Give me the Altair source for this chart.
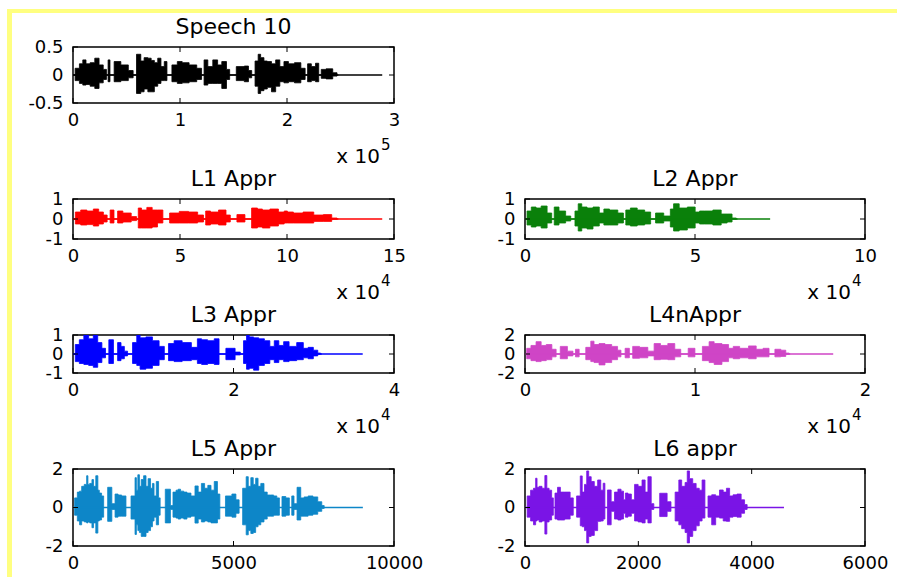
import altair as alt
import pandas as pd

FONT = "DejaVu Sans"

TITLES = ["Speech 10", "L1 Appr", "L2 Appr", "L3 Appr", "L4nAppr", "L5 Appr", "L6 appr"]
COLORS = ["#000000", "#FF0000", "#0A800A", "#0000FF", "#CF45C6", "#0D86C8", "#7A14E6"]
LENGTHS = [289000, 144500, 72100, 36100, 18130, 9030, 4570]
X_MAX = [300000, 150000, 100000, 40000, 20000, 10000, 6000]
X_TICKS = [[0, 100000, 200000, 300000], [0, 50000, 100000, 150000], [0, 50000, 100000],
           [0, 20000, 40000], [0, 10000, 20000], [0, 5000, 10000], [0, 2000, 4000, 6000]]
X_DIV = [100000, 10000, 10000, 10000, 10000, 1, 1]
EXPONENT = ["5", "4", "4", "4", "4", None, None]
Y_LIM = [0.5, 1, 1, 1, 2, 2, 2]
Y_TICKS = [[-0.5, 0, 0.5], [-1, 0, 1], [-1, 0, 1], [-1, 0, 1], [-2, 0, 2], [-2, 0, 2], [-2, 0, 2]]

# envelope readings: (sample, upper, lower)
SPEECH_ENV = [
    (0, 0, 0), (4000, 0.12, -0.10), (8000, 0.20, -0.15), (10300, 0.27, -0.18), (14000, 0.20, -0.17),
    (18000, 0.22, -0.20), (22700, 0.30, -0.24), (26000, 0.18, -0.14), (30500, 0.10, -0.08), (32000, 0, 0),
    (33600, 0.27, -0.12), (35500, 0, 0), (41400, 0.24, -0.12), (48000, 0.18, -0.10), (55400, 0.08, -0.05),
    (57000, 0, 0), (61700, 0.37, -0.33), (65000, 0.25, -0.30), (67900, 0.31, -0.25), (72000, 0.30, -0.30),
    (74100, 0.26, -0.30), (78000, 0.22, -0.20), (80400, 0.30, -0.15), (84000, 0.15, -0.10), (86600, 0.24, -0.10),
    (89000, 0, 0), (95900, 0.18, -0.12), (99100, 0.24, -0.15), (105000, 0.22, -0.14), (112000, 0.18, -0.12),
    (119300, 0.12, -0.08), (121000, 0, 0), (124000, 0.27, -0.18), (128000, 0.15, -0.15), (133300, 0.27, -0.15),
    (137000, 0.18, -0.15), (141100, 0.24, -0.24), (145800, 0.10, -0.08), (147000, 0, 0), (158200, 0.15, -0.10),
    (162000, 0.16, -0.12), (166000, 0.08, -0.05), (168000, 0, 0), (172300, 0.25, -0.20), (173800, 0.37, -0.33),
    (176900, 0.31, -0.28), (180000, 0.25, -0.25), (183200, 0.24, -0.22), (187800, 0.20, -0.30), (191000, 0.27, -0.20),
    (195600, 0.15, -0.12), (198700, 0.24, -0.14), (204000, 0.20, -0.12), (210000, 0.22, -0.14), (215900, 0.12, -0.08),
    (218000, 0, 0), (220500, 0.20, -0.12), (225000, 0.15, -0.10), (228300, 0.21, -0.12), (231000, 0, 0),
    (233000, 0.10, -0.06), (240000, 0.11, -0.07), (245500, 0.04, -0.02), (248000, 0, 0),
]
L1_ENV = [
    (0, 0, 0), (2200, 0.35, -0.25), (5000, 0.45, -0.30), (8000, 0.40, -0.28), (11000, 0.50, -0.35),
    (13000, 0.35, -0.25), (15400, 0.20, -0.15), (16500, 0, 0), (18200, 0.45, -0.20), (20100, 0, 0),
    (21600, 0.40, -0.20), (25000, 0.30, -0.15), (29400, 0.12, -0.08), (30000, 0, 0), (31000, 0.55, -0.45),
    (33000, 0.45, -0.45), (36000, 0.58, -0.45), (38000, 0.45, -0.40), (41000, 0.45, -0.20), (43000, 0, 0),
    (47300, 0.30, -0.20), (52000, 0.38, -0.20), (56000, 0.35, -0.20), (60500, 0.20, -0.15), (61500, 0, 0),
    (62500, 0.40, -0.30), (66000, 0.35, -0.25), (70000, 0.45, -0.30), (73000, 0.20, -0.15), (74000, 0, 0),
    (79200, 0.22, -0.15), (81500, 0, 0), (85400, 0.55, -0.45), (87000, 0.50, -0.40), (90000, 0.45, -0.45),
    (94000, 0.50, -0.35), (98000, 0.35, -0.25), (99400, 0.40, -0.20), (101000, 0.35, -0.20), (105000, 0.30, -0.20),
    (110000, 0.35, -0.20), (115000, 0.20, -0.12), (119000, 0.22, -0.12), (122800, 0.05, -0.02), (124000, 0, 0),
]
L2_ENV = [
    (0, 0, 0), (1200, 0.40, -0.30), (2500, 0.60, -0.40), (4000, 0.55, -0.35), (5500, 0.65, -0.45),
    (7500, 0.30, -0.20), (8200, 0, 0), (9000, 0.60, -0.30), (11000, 0.40, -0.20), (12900, 0.15, -0.10),
    (14000, 0, 0), (15400, 0.40, -0.35), (15900, 0.76, -0.60), (17500, 0.60, -0.45), (19000, 0.55, -0.50),
    (21000, 0.60, -0.35), (22700, 0.30, -0.20), (23700, 0.50, -0.30), (26000, 0.45, -0.30), (28600, 0.30, -0.20),
    (29300, 0, 0), (30000, 0.45, -0.30), (32000, 0.55, -0.35), (34000, 0.45, -0.30), (36400, 0.35, -0.25),
    (37500, 0, 0), (39300, 0.30, -0.20), (42300, 0.15, -0.10), (43200, 0.50, -0.40), (44200, 0.76, -0.60),
    (46500, 0.55, -0.55), (49000, 0.60, -0.45), (51100, 0.35, -0.20), (51600, 0.40, -0.25), (54000, 0.40, -0.25),
    (56500, 0.45, -0.30), (58900, 0.25, -0.20), (60000, 0.25, -0.15), (61800, 0.05, -0.02), (62500, 0, 0),
]
L3_ENV = [
    (0, 0, 0), (580, 0.50, -0.40), (1000, 0.75, -0.50), (1700, 1.05, -0.55), (2200, 0.80, -0.60),
    (2860, 1.00, -0.70), (3300, 0.60, -0.45), (3900, 0.30, -0.20), (4200, 0, 0), (4730, 0.75, -0.50),
    (5350, 0, 0), (5770, 0.60, -0.35), (6200, 0.40, -0.25), (6600, 0.15, -0.10), (7000, 0, 0),
    (7840, 0.60, -0.50), (8050, 1.00, -0.60), (8670, 0.85, -0.80), (9500, 0.90, -0.75), (10300, 0.70, -0.60),
    (11160, 0.40, -0.30), (11600, 0, 0), (12200, 0.55, -0.35), (13000, 0.70, -0.40), (14200, 0.60, -0.35),
    (15300, 0.35, -0.30), (15700, 0.80, -0.50), (16350, 0.75, -0.55), (17200, 0.70, -0.50), (18000, 0.80, -0.55),
    (18400, 0, 0), (19700, 0.30, -0.30), (20700, 0.10, -0.05), (21000, 0, 0), (21500, 0.70, -0.50),
    (21750, 1.05, -0.80), (22200, 0.90, -0.75), (22800, 0.85, -0.85), (23500, 0.80, -0.60), (24200, 0.70, -0.50),
    (24860, 0.40, -0.30), (25300, 0.70, -0.45), (26000, 0.45, -0.30), (26500, 0.65, -0.40), (27350, 0.40, -0.35),
    (28400, 0.60, -0.30), (29000, 0.30, -0.20), (29600, 0.35, -0.25), (30300, 0.20, -0.10), (30700, 0.05, -0.02),
    (31000, 0, 0),
]
L4_ENV = [
    (0, 0, 0), (200, 0.60, -0.50), (500, 0.90, -0.70), (800, 1.30, -0.80), (1100, 0.90, -0.70),
    (1400, 1.00, -0.60), (1760, 0.50, -0.30), (1900, 0, 0), (2250, 0.80, -0.50), (2740, 0.30, -0.20),
    (2900, 0, 0), (3040, 0.50, -0.30), (3330, 0, 0), (3820, 0.70, -0.60), (3920, 1.35, -0.80),
    (4200, 1.00, -0.90), (4510, 1.10, -1.15), (4900, 1.00, -0.90), (5300, 0.80, -0.60), (5590, 0.40, -0.30),
    (5700, 0, 0), (6080, 0.60, -0.40), (6200, 0, 0), (6470, 0.80, -0.45), (7000, 0.70, -0.40),
    (7450, 0.30, -0.20), (7740, 1.10, -0.60), (8200, 0.90, -0.55), (8600, 1.10, -0.60), (9020, 0.50, -0.30),
    (9300, 0, 0), (9900, 0.60, -0.30), (10090, 0, 0), (10780, 0.80, -0.70), (10880, 1.30, -0.90),
    (11370, 1.10, -1.10), (11800, 1.00, -0.80), (12150, 0.60, -0.40), (12350, 0.80, -0.50), (12900, 0.60, -0.40),
    (13400, 0.85, -0.50), (13800, 0.50, -0.30), (14210, 0.60, -0.30), (14500, 0, 0), (14900, 0.50, -0.30),
    (15200, 0.40, -0.25), (15480, 0.10, -0.05), (15600, 0, 0),
]
L5_ENV = [
    (0, 0, 0), (100, 0.50, -0.40), (170, 0.80, -0.70), (240, 0.85, -0.90), (300, 1.10, -0.70),
    (400, 1.20, -0.75), (450, 1.65, -0.80), (480, 1.20, -0.75), (560, 1.25, -0.80), (620, 1.45, -1.05),
    (660, 1.10, -0.80), (760, 1.65, -1.33), (790, 0.90, -0.70), (850, 0.75, -0.65), (930, 0.60, -0.50),
    (980, 0, 0), (1180, 1.05, -0.72), (1240, 0.20, -0.10), (1380, 0.70, -0.50), (1430, 0.65, -0.45),
    (1600, 0.60, -0.45), (1700, 0, 0), (1915, 0.60, -0.60), (1950, 1.55, -1.40), (2000, 0.90, -0.90),
    (2040, 1.70, -1.20), (2100, 1.10, -1.30), (2150, 1.45, -1.50), (2250, 1.65, -1.50), (2300, 1.10, -1.30),
    (2380, 1.50, -1.20), (2450, 1.00, -1.00), (2500, 1.25, -0.70), (2550, 0.60, -0.50), (2640, 1.35, -0.90),
    (2690, 0.50, -0.40), (2740, 0, 0), (3010, 0.95, -0.80), (3060, 0.10, -0.10), (3170, 0.80, -0.50),
    (3250, 0.90, -0.55), (3300, 0.95, -0.60), (3400, 0.85, -0.55), (3500, 0.80, -0.60), (3600, 0.75, -0.50),
    (3750, 0.60, -0.45), (3850, 1.12, -0.81), (3950, 0.80, -0.60), (4050, 1.25, -0.75), (4150, 1.00, -0.70),
    (4250, 1.15, -0.75), (4350, 0.90, -0.80), (4450, 1.35, -0.80), (4550, 0.70, -0.60), (4600, 0, 0),
    (4900, 0.60, -0.45), (5000, 0.70, -0.50), (5150, 0.40, -0.30), (5200, 0, 0), (5370, 1.00, -0.90),
    (5420, 1.60, -1.42), (5500, 1.10, -1.20), (5580, 1.55, -1.35), (5650, 1.20, -1.30), (5730, 1.52, -1.00),
    (5800, 1.10, -0.90), (5900, 1.25, -0.75), (6000, 0.80, -0.60), (6100, 0.65, -0.45), (6200, 0.65, -0.45),
    (6300, 0.60, -0.40), (6400, 0.50, -0.40), (6460, 0, 0), (6560, 0.57, -0.45), (6700, 0.50, -0.40),
    (6780, 0, 0), (6850, 0.60, -0.40), (6920, 0.20, -0.10), (7040, 1.05, -0.65), (7150, 0.50, -0.45),
    (7250, 0.55, -0.45), (7400, 0.60, -0.40), (7550, 0.55, -0.35), (7700, 0.30, -0.20), (7800, 0.10, -0.05),
    (7850, 0, 0),
]
L6_ENV = [
    (0, 0, 0), (77, 0.60, -0.50), (120, 0.90, -0.70), (180, 1.00, -0.90), (195, 1.52, -0.70),
    (230, 1.05, -0.65), (270, 1.10, -0.75), (330, 1.00, -0.70), (371, 1.66, -1.38), (400, 1.00, -0.75),
    (450, 0.90, -0.65), (490, 0.50, -0.40), (510, 0, 0), (548, 0.75, -0.60), (600, 1.05, -0.65),
    (650, 0.80, -0.65), (750, 0.80, -0.60), (843, 0.50, -0.40), (860, 0, 0), (961, 0.60, -0.50),
    (990, 1.64, -0.95), (1030, 0.80, -1.00), (1070, 1.20, -1.20), (1108, 1.90, -1.84), (1140, 1.60, -1.50),
    (1196, 1.35, -1.45), (1250, 1.10, -1.20), (1314, 1.43, -0.72), (1360, 0.90, -0.70), (1400, 1.26, -0.60),
    (1420, 0, 0), (1491, 0.91, -0.90), (1550, 0.30, -0.20), (1609, 0.80, -0.60), (1670, 0.95, -0.65),
    (1720, 0.85, -0.60), (1756, 0.40, -0.30), (1786, 0.75, -0.50), (1850, 0.70, -0.45), (1904, 0.40, -0.30),
    (1963, 1.20, -0.70), (2030, 1.10, -0.75), (2100, 1.43, -0.80), (2140, 0.80, -0.60), (2198, 1.60, -0.80),
    (2257, 0.20, -0.10), (2290, 0, 0), (2464, 0.74, -0.47), (2552, 0.30, -0.20), (2600, 0, 0),
    (2699, 0.80, -0.70), (2730, 1.43, -0.90), (2800, 1.10, -1.10), (2850, 1.30, -1.30), (2876, 1.90, -1.84),
    (2930, 1.50, -1.50), (2990, 1.25, -1.20), (3050, 1.00, -0.95), (3100, 0.90, -0.70), (3150, 1.43, -0.55),
    (3200, 0, 0), (3259, 0.60, -0.50), (3330, 0.66, -0.90), (3400, 0.60, -0.50), (3465, 0.91, -0.55),
    (3530, 0.80, -0.70), (3580, 1.00, -0.72), (3642, 0.60, -0.50), (3701, 0.66, -0.47), (3780, 0.70, -0.50),
    (3849, 0.40, -0.30), (3900, 0.15, -0.10), (3940, 0, 0),
]
ENVS = [SPEECH_ENV, L1_ENV, L2_ENV, L3_ENV, L4_ENV, L5_ENV, L6_ENV]

WIDTHS = [321, 321, 340, 321, 340, 321, 340]
HEIGHTS = [56, 40, 40, 38, 38, 77, 77]
BORDER = "#FFFF80"
LABEL_SIZE = 18
TITLE_SIZE = 22


def panel(i):
    w, h = WIDTHS[i], HEIGHTS[i]
    color = COLORS[i]
    env = pd.DataFrame(ENVS[i], columns=["x", "top", "bot"])
    xs = alt.Scale(domain=[0, X_MAX[i]], nice=False, zero=False)
    ys = alt.Scale(domain=[-Y_LIM[i], Y_LIM[i]], nice=False, zero=False)
    common = dict(ticks=False, domain=False, grid=False, labelFont=FONT, labelFontSize=LABEL_SIZE,
                  labelColor="black", labelFlush=False, labelOverlap=False, labelBound=False,
                  title=None)
    xaxis = alt.Axis(values=X_TICKS[i], labelExpr=f"'' + (datum.value / {X_DIV[i]})",
                     labelPadding=8, **common)
    yaxis = alt.Axis(values=Y_TICKS[i], labelExpr="'' + datum.value", labelPadding=10, **common)

    def X(f):
        return alt.X(f, scale=xs, axis=xaxis)

    def Y(f):
        return alt.Y(f, scale=ys, axis=yaxis)

    area = alt.Chart(env).mark_area(interpolate="step", color=color, opacity=1, stroke=color,
                                    strokeWidth=0.8, clip=True).encode(
        x=X("x:Q"), y=Y("top:Q"), y2="bot:Q")
    base = alt.Chart(pd.DataFrame({"x0": [0], "x1": [LENGTHS[i]], "z": [0]})).mark_rule(
        color=color, strokeWidth=1.3).encode(x=X("x0:Q"), x2="x1:Q", y=Y("z:Q"))

    xt = pd.DataFrame({"t": X_TICKS[i]})
    yt = pd.DataFrame({"t": Y_TICKS[i]})
    tk = dict(color="black", strokeWidth=1)
    ticks_top = alt.Chart(xt).mark_rule(**tk).encode(
        x=X("t:Q"), y=alt.value(0), y2=alt.value(5))
    ticks_bot = alt.Chart(xt).mark_rule(**tk).encode(
        x=X("t:Q"), y=alt.value(h - 5), y2=alt.value(h))
    ticks_left = alt.Chart(yt).mark_rule(**tk).encode(
        y=Y("t:Q"), x=alt.value(0), x2=alt.value(5))
    ticks_right = alt.Chart(yt).mark_rule(**tk).encode(
        y=Y("t:Q"), x=alt.value(w - 5), x2=alt.value(w))

    one = pd.DataFrame({"title": [TITLES[i]], "e": [EXPONENT[i] or ""]})
    title = alt.Chart(one).mark_text(
        align="center", baseline="alphabetic", font=FONT, fontSize=TITLE_SIZE, color="black"
    ).encode(text="title:N", x=alt.value(w / 2), y=alt.value(-13))

    layers = [area, base, ticks_top, ticks_bot, ticks_left, ticks_right, title]

    if EXPONENT[i] is not None:
        layers.append(alt.Chart(one).mark_text(
            text="x 10", align="right", baseline="alphabetic", font=FONT, fontSize=20,
            color="black").encode(x=alt.value(w - 14), y=alt.value(h + 60)))
        layers.append(alt.Chart(one).mark_text(
            align="left", baseline="alphabetic", font=FONT, fontSize=15,
            color="black").encode(text="e:N", x=alt.value(w - 13), y=alt.value(h + 47)))

    return alt.layer(*layers).properties(width=w, height=h)


# empty top-right cell; it also carries the yellow figure border (pixel decoration)
one_row = pd.DataFrame({"a": [0]})
blank_pt = alt.Chart(one_row).mark_point(opacity=0).encode(
    x=alt.X("a:Q", axis=None), y=alt.Y("a:Q", axis=None))
border_top = alt.Chart(one_row).mark_rule(color=BORDER, strokeWidth=4).encode(
    x=alt.value(-518), x2=alt.value(372), y=alt.value(-36))
border_left = alt.Chart(one_row).mark_rule(color=BORDER, strokeWidth=5).encode(
    x=alt.value(-515.5), y=alt.value(-38), y2=alt.value(530))
blank = alt.layer(blank_pt, border_top, border_left).properties(
    width=340, height=56, view=alt.ViewBackground(strokeOpacity=0))

panels = [panel(i) for i in range(7)]

chart = alt.concat(
    panels[0], blank, panels[1], panels[2], panels[3], panels[4], panels[5], panels[6],
    columns=2, spacing={"row": 96, "column": 131}, bounds="flush", align="each",
).properties(
    padding={"left": 5, "top": 6, "right": 0, "bottom": 0},
    background="white",
).configure_view(stroke="black", strokeWidth=1.5)

chart.save("out.html", embed_options={"renderer": "svg", "actions": False})
